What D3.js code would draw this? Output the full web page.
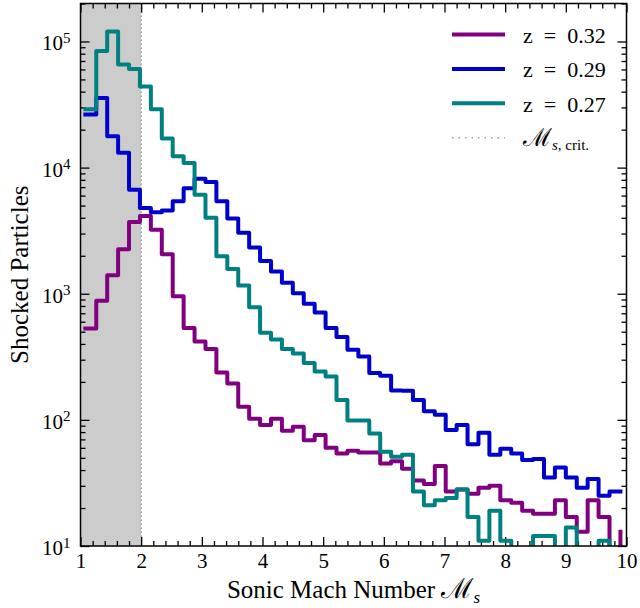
<!DOCTYPE html>
<html>
<head>
<meta charset="utf-8">
<script src="https://cdn.jsdelivr.net/npm/d3@7"></script>
<style>
  body { margin: 0; background: #fff; }
  svg text { font-family: "Liberation Serif", "Times New Roman", serif; fill: #000; }
</style>
</head>
<body>
<div id="container"></div>
<script>
// left edge of each histogram bin (Mach number); the last entry only closes the step
var machBins = [1.08, 1.26, 1.44, 1.62, 1.80, 1.98, 2.16, 2.34, 2.52, 2.70,
    2.88, 3.06, 3.24, 3.42, 3.60, 3.78, 3.96, 4.14, 4.32, 4.50,
    4.68, 4.86, 5.04, 5.22, 5.40, 5.58, 5.76, 5.94, 6.12, 6.30,
    6.48, 6.66, 6.84, 7.02, 7.20, 7.38, 7.56, 7.74, 7.92, 8.10,
    8.28, 8.46, 8.64, 8.82, 9.00, 9.18, 9.36, 9.54, 9.72, 9.90]

var countsZ032 = [530, 880, 1400, 2250, 3700, 4130, 3220, 2060, 955, 535,
    418, 364, 237, 194, 127, 102, 91, 102, 82, 88,
    69, 76, 60, 54, 57, 55, 55, 45, 47, 41,
    33, 31, 43, 27, 28, 26, 29, 30, 23, 22,
    19, 18, 18, 23, 17, 13, 23, 17, 0, 13]

var countsZ029 = [26400, 35700, 17700, 13100, 6680, 4780, 4420, 4560, 5400, 6850,
    8150, 7700, 5400, 3950, 3050, 2330, 1820, 1500, 1220, 1010,
    833, 711, 535, 453, 359, 318, 235, 224, 171, 170,
    144, 117, 110, 83, 91, 64, 79, 53, 59, 54,
    48, 49, 35, 42, 35, 29, 34, 25, 27, 27]

var countsZ027 = [29000, 84000, 120000, 65800, 60500, 44000, 29000, 17000, 12300, 10900,
    6100, 4000, 1980, 1570, 1160, 780, 490, 434, 364, 336,
    282, 242, 221, 144, 99, 99, 78, 56, 51, 53,
    27, 21, 23, 24, 28, 17, 11, 19, 11, 0,
    0, 12, 12, 0, 14, 0, 0, 11, 0, 0]

var seriesLabels = ['z = 0.32', 'z = 0.29', 'z = 0.27']
var seriesCounts = [countsZ032, countsZ029, countsZ027]
var seriesColors = ['#800080', '#0000cd', '#008080']

var xTicks = [1, 2, 3, 4, 5, 6, 7, 8, 9, 10]
var yTicks = [1e1, 1e2, 1e3, 1e4, 1e5]
var yExponents = ['1', '2', '3', '4', '5']
var critMach = 2
var shadeStart = 1

var width = 640
var height = 608

var x = d3.scaleLinear().domain([1, 10]).range([80.5, 626.5])
var y = d3.scaleLog().domain([10, 2e5]).range([546, 3.5])

var plotLeft = x.range()[0]
var plotRight = x.range()[1]
var plotTop = y.range()[1]
var plotBottom = y.range()[0]

var svg = d3.select('#container').append('svg')
    .attr('width', width)
    .attr('height', height)

svg.append('clipPath')
    .attr('id', 'plotClip')
    .append('rect')
    .attr('x', plotLeft)
    .attr('y', plotTop)
    .attr('width', plotRight - plotLeft)
    .attr('height', plotBottom - plotTop)

// shaded sub-critical region
svg.append('rect')
    .attr('x', x(shadeStart))
    .attr('y', plotTop)
    .attr('width', x(critMach) - x(shadeStart))
    .attr('height', plotBottom - plotTop)
    .attr('fill', '#cccccc')

svg.append('line')
    .attr('x1', x(critMach))
    .attr('x2', x(critMach))
    .attr('y1', plotTop)
    .attr('y2', plotBottom)
    .attr('stroke', '#a0a0a0')
    .attr('stroke-width', 1.5)
    .attr('stroke-dasharray', '1.5,2.5')

// minor tick values
var xMinor = []
for (var i = 1; i < 10; i++) {
    for (var j = 1; j < 5; j++) xMinor.push(i + j * 0.2)
}
var yMinor = []
for (var p = 1; p <= 5; p++) {
    for (var m = 2; m <= 9; m++) {
        var v = m * Math.pow(10, p)
        if (v <= 2e5) yMinor.push(v)
    }
}

function tickAxis(axisFn, scale, values, size, withLabels) {
    var a = axisFn(scale).tickValues(values).tickSizeInner(-size).tickSizeOuter(0)
    if (!withLabels) a.tickFormat('')
    return a
}

function styleAxis(g) {
    g.select('.domain').remove()
    g.selectAll('.tick line').attr('stroke', '#000').attr('stroke-width', 1.3)
}

// bottom
var gBottom = svg.append('g').attr('transform', 'translate(0,' + plotBottom + ')')
gBottom.call(tickAxis(d3.axisBottom, x, xMinor, 5, false)).call(styleAxis)
var gBottomMajor = svg.append('g').attr('transform', 'translate(0,' + plotBottom + ')')
gBottomMajor.call(tickAxis(d3.axisBottom, x, xTicks, 9, true).tickPadding(7).tickFormat(d3.format('d')))
    .call(styleAxis)
gBottomMajor.selectAll('.tick text')
    .attr('font-size', 21)
    .attr('font-family', '"Liberation Serif", serif')

// top
svg.append('g').attr('transform', 'translate(0,' + plotTop + ')')
    .call(tickAxis(d3.axisTop, x, xMinor, 5, false)).call(styleAxis)
svg.append('g').attr('transform', 'translate(0,' + plotTop + ')')
    .call(tickAxis(d3.axisTop, x, xTicks, 9, false)).call(styleAxis)

// left
svg.append('g').attr('transform', 'translate(' + plotLeft + ',0)')
    .call(tickAxis(d3.axisLeft, y, yMinor, 5, false)).call(styleAxis)
var gLeft = svg.append('g').attr('transform', 'translate(' + plotLeft + ',0)')
gLeft.call(tickAxis(d3.axisLeft, y, yTicks, 9, true).tickPadding(10)).call(styleAxis)
gLeft.selectAll('.tick text')
    .attr('font-size', 21)
    .attr('font-family', '"Liberation Serif", serif')
    .attr('dy', null)
    .attr('y', 8.5)
    .text(null)
    .each(function (d, i) {
        var t = d3.select(this)
        t.append('tspan').text('10')
        t.append('tspan').attr('font-size', 15).attr('dy', -7.5).text(yExponents[i])
    })

// right
svg.append('g').attr('transform', 'translate(' + plotRight + ',0)')
    .call(tickAxis(d3.axisRight, y, yMinor, 5, false)).call(styleAxis)
svg.append('g').attr('transform', 'translate(' + plotRight + ',0)')
    .call(tickAxis(d3.axisRight, y, yTicks, 9, false)).call(styleAxis)

// histogram steps
var stepLine = d3.line()
    .x(function (d) { return x(d.m) })
    .y(function (d) { return d.c > 0 ? y(d.c) : plotBottom + 30 })
    .curve(d3.curveStepAfter)

var gLines = svg.append('g').attr('clip-path', 'url(#plotClip)')
for (var s = 0; s < seriesCounts.length; s++) {
    var pts = machBins.map(function (m, k) { return { m: m, c: seriesCounts[s][k] } })
    gLines.append('path')
        .datum(pts)
        .attr('d', stepLine)
        .attr('fill', 'none')
        .attr('stroke', seriesColors[s])
        .attr('stroke-width', 4)
        .attr('stroke-linecap', 'square')
        .attr('stroke-linejoin', 'round')
}

// frame
svg.append('rect')
    .attr('x', plotLeft)
    .attr('y', plotTop)
    .attr('width', plotRight - plotLeft)
    .attr('height', plotBottom - plotTop)
    .attr('fill', 'none')
    .attr('stroke', '#000')
    .attr('stroke-width', 1.5)

// legend
var legendX1 = 452
var legendX2 = 505
var legendTextX = 523
var legendY0 = 34.5
var legendStep = 34.4

for (var s = 0; s < seriesLabels.length; s++) {
    var ly = legendY0 + s * legendStep
    svg.append('line')
        .attr('x1', legendX1).attr('x2', legendX2)
        .attr('y1', ly).attr('y2', ly)
        .attr('stroke', seriesColors[s])
        .attr('stroke-width', 4)
    svg.append('text')
        .attr('x', legendTextX)
        .attr('y', ly + 8.5)
        .attr('font-size', 22)
        .text(seriesLabels[s].replace(/ /g, '\u2002'))
}

var critY = legendY0 + 3 * legendStep
svg.append('line')
    .attr('x1', legendX1).attr('x2', legendX2)
    .attr('y1', critY).attr('y2', critY)
    .attr('stroke', '#a0a0a0')
    .attr('stroke-width', 1.5)
    .attr('stroke-dasharray', '1.5,5')

var critText = svg.append('text')
    .attr('x', legendTextX)
    .attr('y', critY + 8.5)
    .attr('font-size', 22)
critText.append('tspan').attr('font-family', '"DejaVu Serif", serif').attr('font-size', 25).text('\u2133')
critText.append('tspan').attr('font-size', 15).attr('dy', 4).attr('font-style', 'italic').text('s')
critText.append('tspan').attr('font-size', 15).text(', crit.')

// axis labels
var xLabel = svg.append('text')
    .attr('x', (plotLeft + plotRight) / 2)
    .attr('y', 598)
    .attr('text-anchor', 'middle')
    .attr('font-size', 25)
xLabel.append('tspan').text('Sonic Mach Number ')
xLabel.append('tspan').attr('font-family', '"DejaVu Serif", serif').attr('font-size', 28).text('\u2133')
xLabel.append('tspan').attr('font-size', 17).attr('dy', 5).attr('font-style', 'italic').text('s')

svg.append('text')
    .attr('transform', 'translate(28,' + (plotTop + plotBottom) / 2 + ') rotate(-90)')
    .attr('text-anchor', 'middle')
    .attr('font-size', 25)
    .text('Shocked Particles')
</script>
</body>
</html>
